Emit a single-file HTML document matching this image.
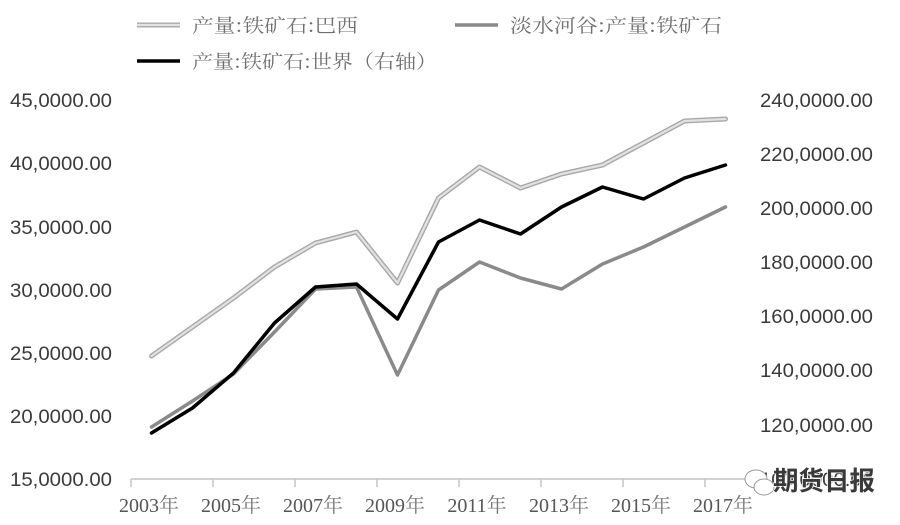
<!DOCTYPE html>
<html><head><meta charset="utf-8"><style>
html,body{margin:0;padding:0;background:#fff;}
svg{display:block;}
</style></head><body>
<svg width="900" height="525" viewBox="0 0 900 525" xmlns="http://www.w3.org/2000/svg">
<rect width="900" height="525" fill="#fff"/>
<!-- legend -->
<line x1="137" y1="25" x2="180" y2="25" stroke="#a8a8a8" stroke-width="5"/>
<line x1="137" y1="25" x2="180" y2="25" stroke="#e2e2e2" stroke-width="2.2"/>
<text x="192" y="32" font-family="'Noto Serif CJK SC','Liberation Serif',serif" font-size="19" fill="#707070" textLength="166" lengthAdjust="spacingAndGlyphs">产量:铁矿石:巴西</text>
<line x1="455" y1="25" x2="498" y2="25" stroke="#8a8a8a" stroke-width="3.5"/>
<text x="510" y="32" font-family="'Noto Serif CJK SC','Liberation Serif',serif" font-size="19" fill="#707070" textLength="212" lengthAdjust="spacingAndGlyphs">淡水河谷:产量:铁矿石</text>
<line x1="137" y1="61" x2="180" y2="61" stroke="#000" stroke-width="3.5"/>
<text x="192" y="68" font-family="'Noto Serif CJK SC','Liberation Serif',serif" font-size="19" fill="#707070" textLength="245" lengthAdjust="spacingAndGlyphs">产量:铁矿石:世界（右轴）</text>

<!-- left axis labels -->
<g font-family="'Liberation Sans',sans-serif" font-size="19.5" fill="#3a3a3a">
<text x="10" y="107" textLength="102" lengthAdjust="spacingAndGlyphs">45,0000.00</text>
<text x="10" y="170" textLength="102" lengthAdjust="spacingAndGlyphs">40,0000.00</text>
<text x="10" y="234" textLength="102" lengthAdjust="spacingAndGlyphs">35,0000.00</text>
<text x="10" y="297" textLength="102" lengthAdjust="spacingAndGlyphs">30,0000.00</text>
<text x="10" y="360" textLength="102" lengthAdjust="spacingAndGlyphs">25,0000.00</text>
<text x="10" y="423" textLength="102" lengthAdjust="spacingAndGlyphs">20,0000.00</text>
<text x="10" y="486" textLength="102" lengthAdjust="spacingAndGlyphs">15,0000.00</text>
</g>
<!-- right axis labels -->
<g font-family="'Liberation Sans',sans-serif" font-size="19.5" fill="#3a3a3a">
<text x="760" y="107" textLength="113" lengthAdjust="spacingAndGlyphs">240,0000.00</text>
<text x="760" y="161" textLength="113" lengthAdjust="spacingAndGlyphs">220,0000.00</text>
<text x="760" y="215" textLength="113" lengthAdjust="spacingAndGlyphs">200,0000.00</text>
<text x="760" y="269" textLength="113" lengthAdjust="spacingAndGlyphs">180,0000.00</text>
<text x="760" y="323" textLength="113" lengthAdjust="spacingAndGlyphs">160,0000.00</text>
<text x="760" y="377" textLength="113" lengthAdjust="spacingAndGlyphs">140,0000.00</text>
<text x="760" y="432" textLength="113" lengthAdjust="spacingAndGlyphs">120,0000.00</text>
<text x="760" y="486" textLength="113" lengthAdjust="spacingAndGlyphs">100,0000.00</text>
</g>

<!-- x axis -->
<line x1="131" y1="479" x2="746" y2="479" stroke="#c4c4c4" stroke-width="1.5"/>
<g stroke="#c4c4c4" stroke-width="1.5">
<line x1="131" y1="479" x2="131" y2="487"/>
<line x1="213" y1="479" x2="213" y2="487"/>
<line x1="295" y1="479" x2="295" y2="487"/>
<line x1="377" y1="479" x2="377" y2="487"/>
<line x1="459" y1="479" x2="459" y2="487"/>
<line x1="541" y1="479" x2="541" y2="487"/>
<line x1="623" y1="479" x2="623" y2="487"/>
<line x1="705" y1="479" x2="705" y2="487"/>
</g>
<g font-family="'Liberation Serif','Noto Serif CJK SC',serif" font-size="20" fill="#555" text-anchor="middle">
<text x="149" y="512">2003<tspan font-family="'Noto Serif CJK SC',serif" fill="#777">年</tspan></text>
<text x="231" y="512">2005<tspan font-family="'Noto Serif CJK SC',serif" fill="#777">年</tspan></text>
<text x="313" y="512">2007<tspan font-family="'Noto Serif CJK SC',serif" fill="#777">年</tspan></text>
<text x="395" y="512">2009<tspan font-family="'Noto Serif CJK SC',serif" fill="#777">年</tspan></text>
<text x="477" y="512">2011<tspan font-family="'Noto Serif CJK SC',serif" fill="#777">年</tspan></text>
<text x="559" y="512">2013<tspan font-family="'Noto Serif CJK SC',serif" fill="#777">年</tspan></text>
<text x="641" y="512">2015<tspan font-family="'Noto Serif CJK SC',serif" fill="#777">年</tspan></text>
<text x="723" y="512">2017<tspan font-family="'Noto Serif CJK SC',serif" fill="#777">年</tspan></text>
</g>

<!-- series -->
<g fill="none" stroke-linejoin="round" stroke-linecap="round">
<polyline stroke="#a8a8a8" stroke-width="5" points="151.5,356 192.5,327 233.5,298 274.5,267 315.5,243 356.5,232 397.5,283 438.5,198 479.5,167 520.5,188 561.5,174 602.5,165 643.5,143 684.5,121 725.5,119"/>
<polyline stroke="#e2e2e2" stroke-width="2.2" points="151.5,356 192.5,327 233.5,298 274.5,267 315.5,243 356.5,232 397.5,283 438.5,198 479.5,167 520.5,188 561.5,174 602.5,165 643.5,143 684.5,121 725.5,119"/>
<polyline stroke="#8a8a8a" stroke-width="3.5" points="151.5,427 192.5,401 233.5,374 274.5,332 315.5,289 356.5,287 397.5,375 438.5,290 479.5,262 520.5,278 561.5,289 602.5,264 643.5,247 684.5,227 725.5,207"/>
<polyline stroke="#000" stroke-width="3.5" points="151.5,433 192.5,408 233.5,373 274.5,323 315.5,287 356.5,284 397.5,319 438.5,242 479.5,220 520.5,234 561.5,207 602.5,187 643.5,199 684.5,178 725.5,165"/>
</g>

<!-- watermark -->
<g fill="#fff" stroke="#999" stroke-width="1">
<ellipse cx="756" cy="479" rx="11" ry="9"/>
<ellipse cx="764" cy="487" rx="10" ry="8"/>
</g>
<text x="773" y="490" font-family="'Noto Sans CJK SC',sans-serif" font-size="26" font-weight="bold" fill="#3a3a3a" stroke="#fff" stroke-width="1.5" paint-order="stroke" textLength="102" lengthAdjust="spacingAndGlyphs">期货日报</text>
</svg>
</body></html>
